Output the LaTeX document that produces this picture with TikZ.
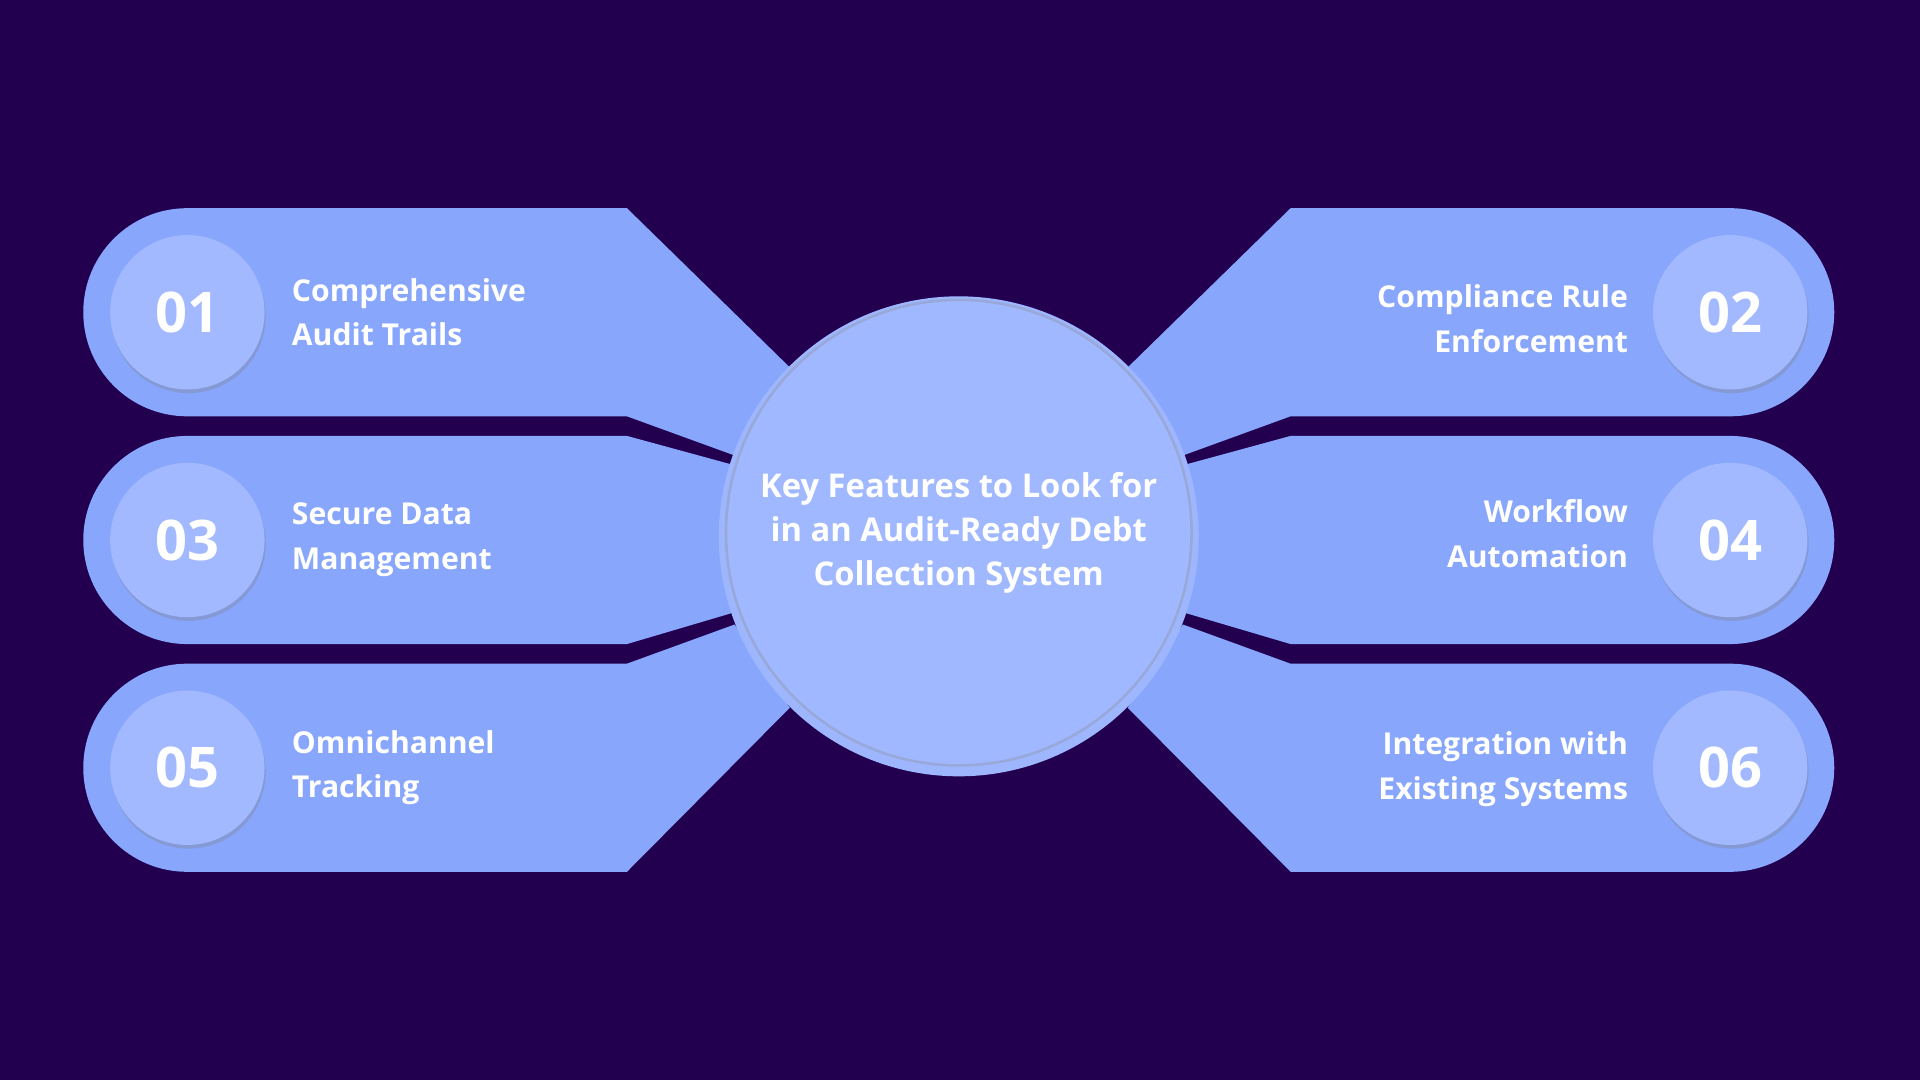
\documentclass[tikz,border=0pt]{standalone}
\usepackage{fontspec}
\setmainfont{Open Sans}
\usetikzlibrary{shadows}
\definecolor{bgpurple}{HTML}{22004F}
\definecolor{bandblue}{HTML}{88A6FB}
\definecolor{numblue}{HTML}{A2B9FF}
\definecolor{hubblue}{HTML}{A0B8FF}
\tikzset{
  band/.style = {fill=bandblue, draw=none},
  num/.style = {circle, minimum size=1.26cm, fill=numblue, text=white,
    font=\bfseries\fontsize{13}{13}\selectfont, drop shadow={opacity=0.3, shadow xshift=0.01cm, shadow yshift=-0.03cm}},
  lbl/.style = {text=white, font=\bfseries\fontsize{7}{10.4}\selectfont, align=left},
  rlbl/.style = {lbl, align=right}
}
\begin{document}
\begin{tikzpicture}[x=0.01cm, y=-0.01cm]
\useasboundingbox (0,0) rectangle (1568,882);
\fill[bgpurple] (0,0) rectangle (1568,882);

% left bands
\fill[band] (512,170) -- (645,300) -- (600,372) -- (512,340) -- (153,340) arc (90:270:85) -- cycle;
\fill[band] (512,356) -- (600,380) -- (600,500) -- (512,526) -- (153,526) arc (90:270:85) -- cycle;
\fill[band] (512,542) -- (600,510) -- (645,578) -- (512,712) -- (153,712) arc (90:270:85) -- cycle;

% right bands
\fill[band] (1054,170) -- (921,300) -- (966,372) -- (1054,340) -- (1413,340) arc (90:-90:85) -- cycle;
\fill[band] (1054,356) -- (966,380) -- (966,500) -- (1054,526) -- (1413,526) arc (90:-90:85) -- cycle;
\fill[band] (1054,542) -- (966,510) -- (921,578) -- (1054,712) -- (1413,712) arc (90:-90:85) -- cycle;

% hub
\fill[numblue!85!bandblue] (783,438) circle (196);
\node[circle, minimum size=3.8cm, fill=hubblue, draw=numblue!70!gray, line width=0.6pt,
  text=white, font=\bfseries\fontsize{7.6}{10.2}\selectfont, align=center] (hub) at (783,435)
  {Key Features to Look for\\in an Audit-Ready Debt\\Collection System};

% numbers
\node[num] (n1) at (153,255) {01};
\node[num] (n3) at (153,441) {03};
\node[num] (n5) at (153,627) {05};
\node[num] (n2) at (1413,255) {02};
\node[num] (n4) at (1413,441) {04};
\node[num] (n6) at (1413,627) {06};

% labels
\node[lbl, anchor=west] (l1) at (226,255) {Comprehensive\\Audit Trails};
\node[lbl, anchor=west] (l3) at (226,441) {Secure Data\\Management};
\node[lbl, anchor=west] (l5) at (226,627) {Omnichannel\\Tracking};
\node[rlbl, anchor=east] (l2) at (1342,260) {Compliance Rule\\Enforcement};
\node[rlbl, anchor=east] (l4) at (1342,436) {Workflow\\Automation};
\node[rlbl, anchor=east] (l6) at (1342,628) {Integration with\\Existing Systems};
\end{tikzpicture}
\end{document}
